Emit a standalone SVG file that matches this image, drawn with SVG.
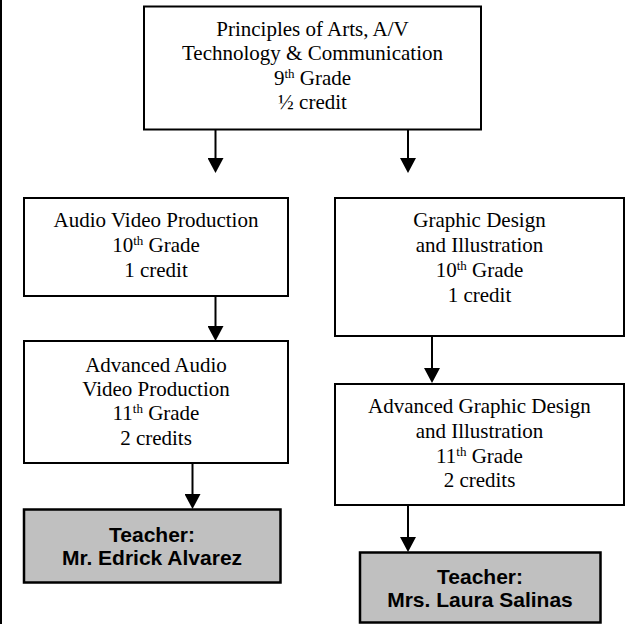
<svg xmlns="http://www.w3.org/2000/svg" width="625" height="624" viewBox="0 0 625 624">
<style>
.box{fill:#ffffff;stroke:#000000;stroke-width:2}
.tbox{fill:#c0c0c0;stroke:#000000;stroke-width:2.5}
.t{font-family:"Liberation Serif","Times New Roman",serif;font-size:21px;fill:#000;text-anchor:middle}
.b{font-family:"Liberation Sans",Arial,sans-serif;font-size:21px;font-weight:bold;fill:#000;text-anchor:middle}
.sup{font-size:13px}
.edge{stroke:#000;stroke-width:2;fill:none;marker-end:url(#ah)}
</style>
<defs>
<marker id="ah" viewBox="0 0 15 16" refX="0" refY="8" markerWidth="15" markerHeight="16" markerUnits="userSpaceOnUse" orient="auto">
<path d="M0,0 L15,8 L0,16 Z" fill="#000"/>
</marker>
</defs>
<rect x="0" y="0" width="2" height="624" fill="#000"/>
<g id="connectors">
<line class="edge" x1="215.5" y1="130" x2="215.5" y2="158"/>
<line class="edge" x1="408" y1="130" x2="408" y2="158"/>
<line class="edge" x1="215.5" y1="297" x2="215.5" y2="326"/>
<line class="edge" x1="432" y1="337" x2="432" y2="368"/>
<line class="edge" x1="192.5" y1="464" x2="192.5" y2="494"/>
<line class="edge" x1="408" y1="506" x2="408" y2="537"/>
</g>
<g id="principles">
<rect class="box" x="144" y="6.5" width="337" height="123"/>
<text class="t" x="312.5" y="36">Principles of Arts, A/V</text>
<text class="t" x="312.5" y="60">Technology &amp; Communication</text>
<text class="t" x="312.5" y="85">9<tspan class="sup" dy="-7">th</tspan><tspan dy="7"> Grade</tspan></text>
<text class="t" x="312.5" y="109">½ credit</text>
</g>
<g id="avp">
<rect class="box" x="24" y="198" width="264" height="98"/>
<text class="t" x="156" y="227">Audio Video Production</text>
<text class="t" x="156" y="252">10<tspan class="sup" dy="-7">th</tspan><tspan dy="7"> Grade</tspan></text>
<text class="t" x="156" y="277">1 credit</text>
</g>
<g id="gdi">
<rect class="box" x="335" y="198" width="289" height="138"/>
<text class="t" x="479.5" y="227">Graphic Design</text>
<text class="t" x="479.5" y="252">and Illustration</text>
<text class="t" x="479.5" y="277">10<tspan class="sup" dy="-7">th</tspan><tspan dy="7"> Grade</tspan></text>
<text class="t" x="479.5" y="302">1 credit</text>
</g>
<g id="aavp">
<rect class="box" x="24" y="341" width="264" height="122"/>
<text class="t" x="156" y="372">Advanced Audio</text>
<text class="t" x="156" y="396">Video Production</text>
<text class="t" x="156" y="420">11<tspan class="sup" dy="-7">th</tspan><tspan dy="7"> Grade</tspan></text>
<text class="t" x="156" y="445">2 credits</text>
</g>
<g id="agdi">
<rect class="box" x="335" y="384" width="289" height="121"/>
<text class="t" x="479.5" y="413">Advanced Graphic Design</text>
<text class="t" x="479.5" y="438">and Illustration</text>
<text class="t" x="479.5" y="463">11<tspan class="sup" dy="-7">th</tspan><tspan dy="7"> Grade</tspan></text>
<text class="t" x="479.5" y="487">2 credits</text>
</g>
<g id="teacher1">
<rect class="tbox" x="24" y="509.5" width="256.5" height="73"/>
<text class="b" x="152" y="542">Teacher:</text>
<text class="b" x="152" y="565">Mr. Edrick Alvarez</text>
</g>
<g id="teacher2">
<rect class="tbox" x="360" y="552.5" width="240.5" height="70"/>
<text class="b" x="480" y="584">Teacher:</text>
<text class="b" x="480" y="607">Mrs. Laura Salinas</text>
</g>
</svg>
